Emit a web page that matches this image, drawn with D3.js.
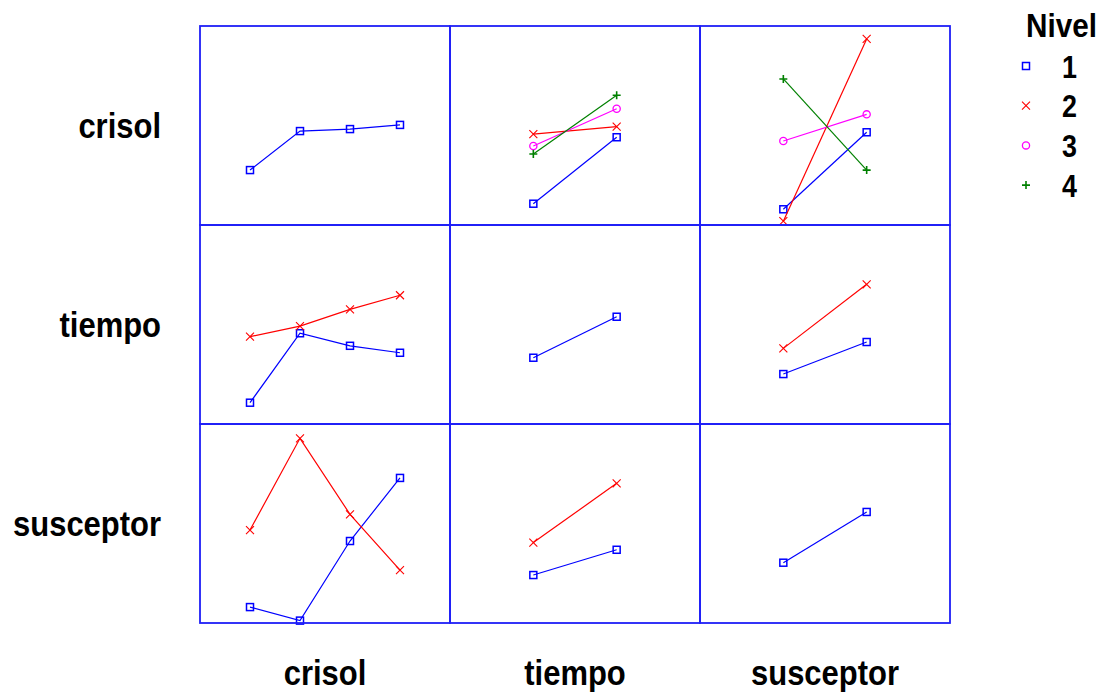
<!DOCTYPE html>
<html>
<head>
<meta charset="utf-8">
<script src="https://cdn.jsdelivr.net/npm/d3@7"></script>
<style>
  html, body { margin: 0; padding: 0; background: #fff; }
  svg text { font-family: "Liberation Sans", Arial, sans-serif; font-weight: bold; fill: #000; }
</style>
</head>
<body>
<div id="chart"></div>
<script>
// factors and their levels
const factors = ['crisol', 'tiempo', 'susceptor'];
const crisolLevels = [1, 2, 3, 4];
const tiempoLevels = [1, 2];
const susceptorLevels = [1, 2];
const legendLevels = ['1', '2', '3', '4'];

// mean response (common scale 0-100)
// diagonal = main effects, off-diagonal = one line per level of the row factor
const crisolMain = [27.6, 47.2, 48.2, 50.3];
const crisolByTiempo = [[10.7, 44.1], [45.7, 49.4], [39.7, 58.4], [35.7, 65.2]];
const crisolBySusceptor = [[7.9, 46.6], [1.9, 93.5], [42.2, 55.6], [73.4, 27.6]];
const tiempoByCrisol = [[10.7, 45.6, 39.3, 35.8], [43.9, 49.2, 57.6, 64.7]];
const tiempoMain = [33.3, 53.9];
const tiempoBySusceptor = [[25.1, 41.2], [38.0, 70.2]];
const susceptorByCrisol = [[8.0, 1.2, 41.2, 72.9], [46.7, 92.8, 54.6, 26.6]];
const susceptorByTiempo = [[24.1, 36.8], [40.4, 70.2]];
const susceptorMain = [30.3, 55.8];

const levelsOf = { crisol: crisolLevels, tiempo: tiempoLevels, susceptor: susceptorLevels };
const panels = [
    [[crisolMain], crisolByTiempo, crisolBySusceptor],
    [tiempoByCrisol, [tiempoMain], tiempoBySusceptor],
    [susceptorByCrisol, susceptorByTiempo, [susceptorMain]]
];

const colors = ['#0000ff', '#ff0000', '#ff00ff', '#008000'];
const symbols = ['square', 'cross', 'circle', 'plus'];

const width = 1108, height = 696;
const svg = d3.select('#chart').append('svg')
    .attr('width', width)
    .attr('height', height);

const colBand = d3.scaleBand().domain(factors).range([200, 950]);
const rowBand = d3.scaleBand().domain(factors).range([26, 623]);
const yBase = d3.scaleLinear().domain([0, 100]);

// draw a marker into a selection at (x, y)
function marker(sel, kind, x, y, color) {
    if (kind === 'square') {
        sel.append('rect').attr('x', x - 3.5).attr('y', y - 3.5)
            .attr('width', 7).attr('height', 7)
            .attr('fill', 'none').attr('stroke', color).attr('stroke-width', 1.5);
    } else if (kind === 'circle') {
        sel.append('circle').attr('cx', x).attr('cy', y).attr('r', 3.6)
            .attr('fill', 'none').attr('stroke', color).attr('stroke-width', 1.3);
    } else if (kind === 'cross') {
        sel.append('path').attr('d', `M${x - 4},${y - 4}L${x + 4},${y + 4}M${x - 4},${y + 4}L${x + 4},${y - 4}`)
            .attr('stroke', color).attr('stroke-width', 1.1).attr('fill', 'none');
    } else {
        sel.append('path').attr('d', `M${x - 4},${y}L${x + 4},${y}M${x},${y - 4}L${x},${y + 4}`)
            .attr('stroke', color).attr('stroke-width', 1.6).attr('fill', 'none');
    }
}

const line = d3.line();

factors.forEach((rowF, ri) => {
    const y = yBase.copy().range([rowBand(rowF) + rowBand.bandwidth(), rowBand(rowF)]);
    factors.forEach((colF, ci) => {
        const x0 = colBand(colF);
        const x = d3.scalePoint().domain(levelsOf[colF]).range([x0, x0 + colBand.bandwidth()]).padding(1);
        const g = svg.append('g').attr('class', `panel-${rowF}-${colF}`);
        panels[ri][ci].forEach((vals, li) => {
            const pts = vals.map((v, k) => [x(levelsOf[colF][k]), y(v)]);
            g.append('path').attr('d', line(pts))
                .attr('fill', 'none').attr('stroke', colors[li]).attr('stroke-width', 1.2);
            pts.forEach(p => marker(g, symbols[li], p[0], p[1], colors[li]));
        });
    });
});

// panel frames
factors.forEach(rowF => factors.forEach(colF => {
    svg.append('rect')
        .attr('x', colBand(colF)).attr('y', rowBand(rowF))
        .attr('width', colBand.bandwidth()).attr('height', rowBand.bandwidth())
        .attr('fill', 'none').attr('stroke', '#1f1ff7').attr('stroke-width', 1.8);
}));

// row labels
factors.forEach(f => {
    svg.append('text')
        .attr('transform', `translate(161,${rowBand(f) + rowBand.bandwidth() / 2 + 12}) scale(0.885,1)`)
        .attr('text-anchor', 'end')
        .style('font-size', '35px')
        .text(f);
});

// column labels
factors.forEach(f => {
    svg.append('text')
        .attr('transform', `translate(${colBand(f) + colBand.bandwidth() / 2},685) scale(0.885,1)`)
        .attr('text-anchor', 'middle')
        .style('font-size', '35px')
        .text(f);
});

// legend
svg.append('text')
    .attr('transform', 'translate(1026,37) scale(0.9,1)')
    .style('font-size', '33px')
    .text('Nivel');

legendLevels.forEach((lv, i) => {
    const ly = 66 + i * 39.7;
    marker(svg, symbols[i], 1026, ly, colors[i]);
    svg.append('text')
        .attr('transform', `translate(1062,${ly + 11.5}) scale(0.84,1)`)
        .style('font-size', '32px')
        .text(lv);
});
</script>
</body>
</html>
